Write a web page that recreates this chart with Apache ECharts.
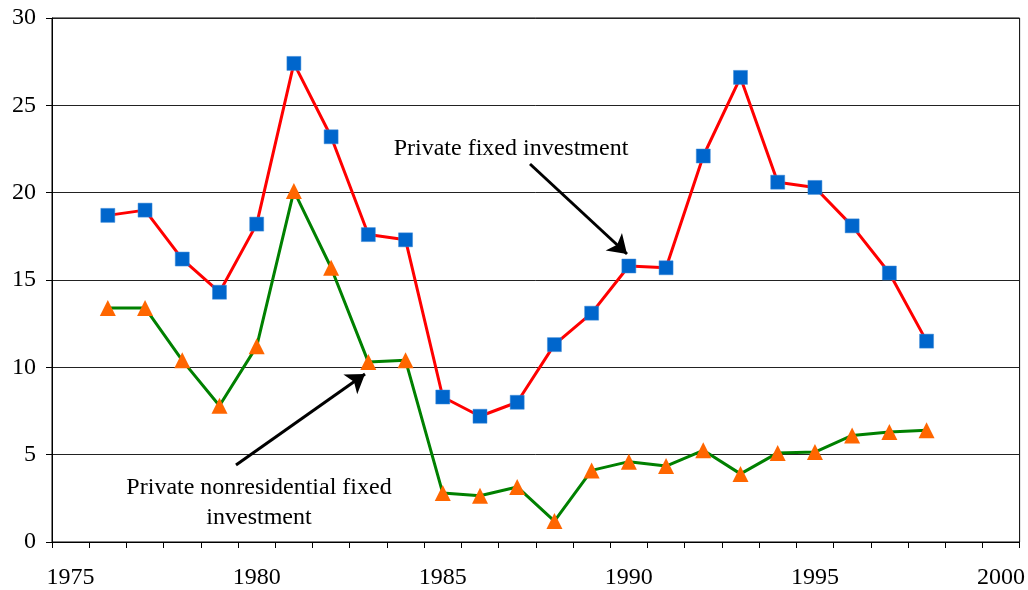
<!DOCTYPE html>
<html>
<head>
<meta charset="utf-8">
<script src="https://cdn.jsdelivr.net/npm/echarts@6/dist/echarts.min.js"></script>
<style>
  html, body { margin: 0; padding: 0; background: #fff; }
  #chart { width: 1028px; height: 590px; }
</style>
</head>
<body>
<div id="chart"></div>
<script>
// years on the category axis (1975 - 2000)
var years = [];
for (var y = 1975; y <= 2000; y++) years.push(String(y));

// private fixed investment, 1976-1998
var fixedInv = [null,
  18.7, 19.0, 16.2, 14.3, 18.2, 27.4, 23.2, 17.6, 17.3, 8.3,
  7.2, 8.0, 11.3, 13.1, 15.8, 15.7, 22.1, 26.6, 20.6, 20.3,
  18.1, 15.4, 11.5,
  null, null];

// private nonresidential fixed investment, 1976-1998
var nonresInv = [null,
  13.4, 13.4, 10.4, 7.8, 11.2, 20.1, 15.7, 10.3, 10.4, 2.8,
  2.65, 3.15, 1.2, 4.1, 4.6, 4.35, 5.25, 3.9, 5.1, 5.15,
  6.1, 6.3, 6.4,
  null, null];

var yTicks = { min: 0, max: 30, step: 5 };

var chart = echarts.init(document.getElementById('chart'));
var font = '"Liberation Serif", "DejaVu Serif", serif';

var option = {
  animation: false,
  backgroundColor: '#fff',
  grid: {
    left: 52, right: 8, top: 18, bottom: 47,
    show: true, borderColor: '#000', borderWidth: 1
  },
  xAxis: {
    type: 'category',
    data: years,
    boundaryGap: true,
    axisLine: { lineStyle: { color: '#000', width: 1 } },
    axisTick: { show: true, interval: 0, length: 6, lineStyle: { color: '#000' } },
    axisLabel: {
      interval: 4, margin: 24,
      color: '#000', fontFamily: font, fontSize: 24
    },
    splitLine: { show: false }
  },
  yAxis: {
    type: 'value',
    min: yTicks.min, max: yTicks.max, interval: yTicks.step,
    axisLine: { show: true, lineStyle: { color: '#000', width: 1 } },
    axisTick: { show: true, length: 6, lineStyle: { color: '#000' } },
    axisLabel: { margin: 16, color: '#000', fontFamily: font, fontSize: 24 },
    splitLine: { show: true, lineStyle: { color: '#222', width: 1 } }
  },
  series: [
    {
      name: 'Private fixed investment',
      type: 'line',
      data: fixedInv,
      symbol: 'rect',
      symbolSize: 14,
      showAllSymbol: true,
      lineStyle: { color: '#FF0000', width: 3 },
      itemStyle: { color: '#0066CC', borderColor: '#3d8ad8', borderWidth: 0.5 },
      z: 3,
      markLine: {
        silent: true,
        symbol: ['none', 'arrow'],
        symbolSize: 18,
        label: { show: false },
        lineStyle: { color: '#000', width: 3, type: 'solid' },
        data: [
          [{ x: 530, y: 164 }, { x: 627, y: 254 }],
          [{ x: 236, y: 465 }, { x: 365, y: 374 }]
        ]
      }
    },
    {
      name: 'Private nonresidential fixed investment',
      type: 'line',
      data: nonresInv,
      symbol: 'triangle',
      symbolSize: 16,
      showAllSymbol: true,
      lineStyle: { color: '#008000', width: 3 },
      itemStyle: { color: '#FF6600' },
      z: 2
    }
  ],
  graphic: [
    {
      type: 'text', x: 511, y: 149,
      style: {
        text: 'Private fixed investment',
        font: '24px ' + font, fill: '#000',
        textAlign: 'center', textVerticalAlign: 'middle'
      }
    },
    {
      type: 'text', x: 259, y: 503,
      style: {
        text: 'Private nonresidential fixed\ninvestment',
        font: '24px ' + font, fill: '#000', lineHeight: 30,
        textAlign: 'center', textVerticalAlign: 'middle'
      }
    }
  ]
};

chart.setOption(option);
</script>
</body>
</html>
